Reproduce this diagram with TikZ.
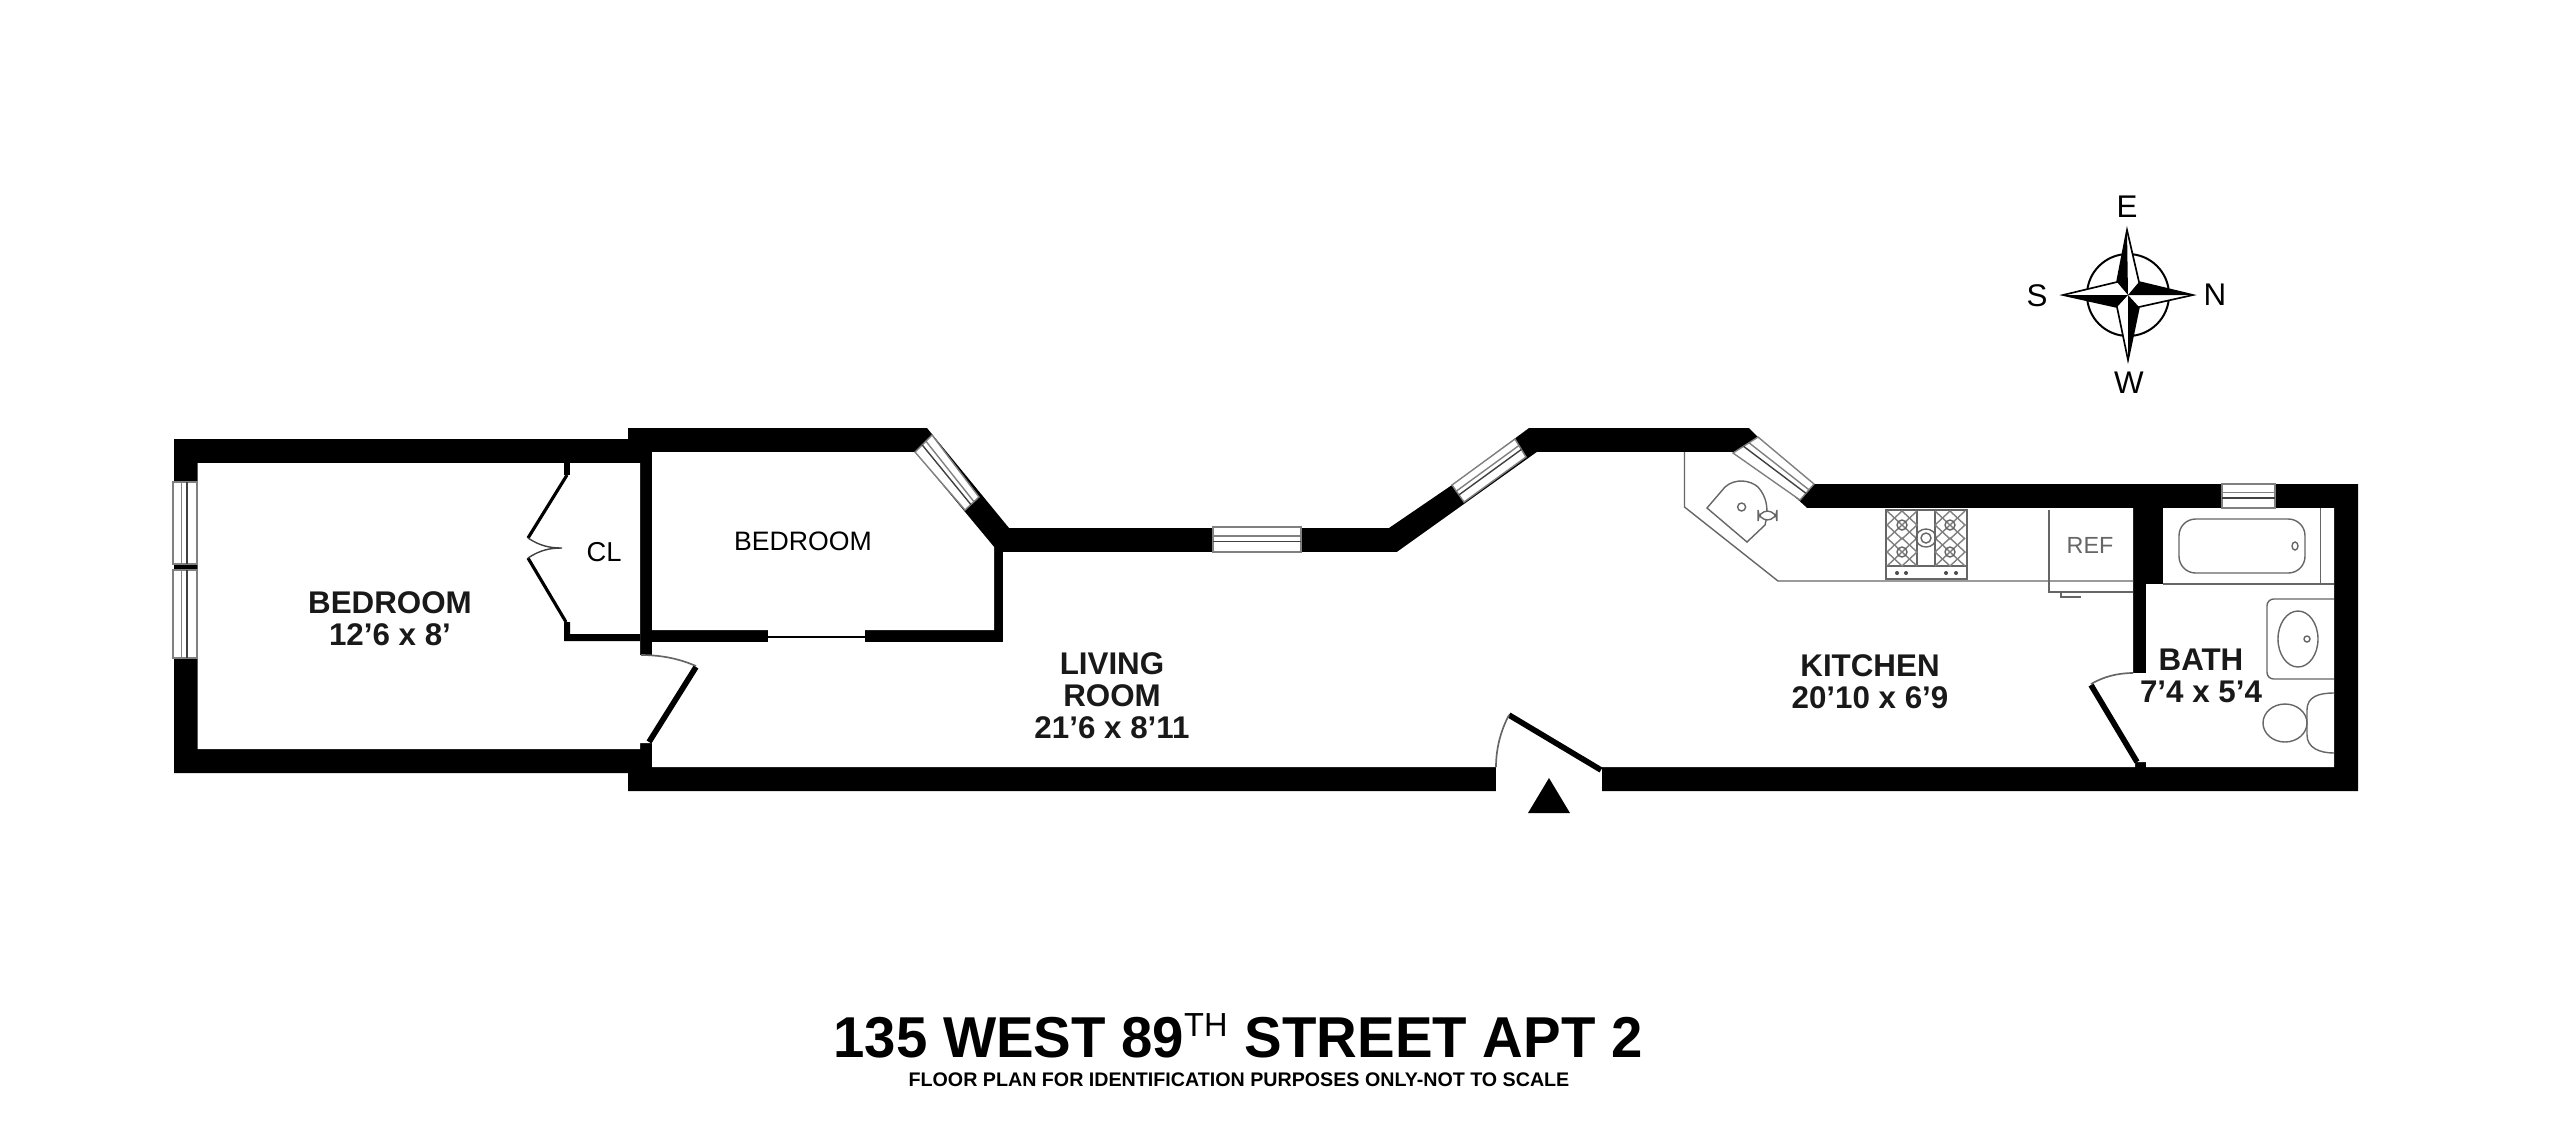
\documentclass[tikz,border=0pt]{standalone}
\usepackage{fontspec}
\setmainfont{Liberation Sans}
\usetikzlibrary{calc}
\tikzset{
  wallfill/.style={fill=black,draw=none},
  fixture/.style={draw=black!60,line width=0.42pt,fill=none},
  fine/.style={draw=black!75,line width=0.42pt,fill=none},
  glass/.style={draw=black!50,line width=0.42pt,fill=white},
  leaf/.style={draw=black,line width=1.7pt},
  swing/.style={draw=black!60,line width=0.5pt},
  roomlabel/.style={font=\fontsize{9.4pt}{9.6pt}\selectfont\bfseries,align=center,inner sep=0pt,text=black!90},
  plainlabel/.style={font=\fontsize{8pt}{9.6pt}\selectfont,align=center,inner sep=0pt},
  compasslabel/.style={font=\fontsize{9.4pt}{9.6pt}\selectfont,inner sep=0pt},
}
% window: four corners a b (outer) c d (inner, c next to b)
\newcommand{\winpane}[4]{%
  \draw[glass] #1 -- #2 -- #3 -- #4 -- cycle;
  \draw[glass] ($#1!0.36!#4$) -- ($#2!0.36!#3$);
  \draw[fine] ($#1!0.58!#4$) -- ($#2!0.58!#3$);
}
\begin{document}
\begin{tikzpicture}[x=0.3pt,y=-0.3pt]
\useasboundingbox (0,0) rectangle (2554,1122);
\fill[white] (0,0) rectangle (2554,1122);

% ---------- walls ----------
\fill[wallfill] (174,439) -- (628,439) -- (628,428) -- (927,428) -- (1009,528) -- (1389,528)
  -- (1452,485) -- (1529,428) -- (1749,428) -- (1758,437) -- (1814,484) -- (2358,484) -- (2358,791)
  -- (628,791) -- (628,773) -- (174,773) -- cycle;
% interiors (cut out in white)
\fill[white] (197.500,463) -- (640,463) -- (640,655) -- (652,655) -- (652,743) -- (640,743) -- (640,749) -- (197.500,749) -- cycle;
\fill[white] (652,452) -- (915,452) -- (994,547) -- (994,630) -- (652,630) -- cycle;
\fill[white] (652,642) -- (1003,642) -- (1003,552) -- (1397,552) -- (1537,452) -- (1745,452)
  -- (1807,508) -- (2133,508) -- (2133,673) -- (2146,673) -- (2146,584) -- (2163,584) -- (2163,508)
  -- (2334,508) -- (2334,767) -- (2146,767) -- (2146,762) -- (2135,762) -- (2135,767) -- (652,767) -- cycle;
% entrance gap
\fill[white] (1496,760) rectangle (1602,795);
% door openings in partitions
\fill[white] (640,655) rectangle (652,743);
\fill[white] (2133,673) rectangle (2146,762);
% bedroom partition gap
\fill[white] (768,628) rectangle (865,644);
\draw[black,line width=0.45pt] (768,637) -- (865,637);

% west-bedroom closet
\fill[wallfill] (564,463) rectangle (570,475);
\fill[wallfill] (564,622) -- (570,622) -- (570,634) -- (640,634) -- (640,641) -- (564,641) -- cycle;
\draw[black,line width=0.95pt] (567,475) -- (528,538);
\draw[black,line width=0.95pt] (528,558) -- (566,622);
\draw[fine] (528,538) .. controls (540,546) and (550,548) .. (562,548) .. controls (550,548) and (540,550) .. (528,558);

% doors
\draw[leaf] (696,667) -- (649,742);
\draw[swing] (641,655) .. controls (662,655) and (680,659) .. (696,666);
\draw[leaf] (1509,715) -- (1601,770);
\draw[swing] (1496,767) .. controls (1496,748) and (1501,730) .. (1509,715);
\draw[leaf] (2091,685) -- (2137,762);
\draw[swing] (2133,673) .. controls (2117,673) and (2103,677) .. (2091,684);

% entrance triangle
\fill[black] (1549,778) -- (1570,813) -- (1528,813) -- cycle;

% ---------- windows ----------
\winpane{(173,482)}{(173,564)}{(197,564)}{(197,482)}
\winpane{(173,570)}{(173,658)}{(197,658)}{(197,570)}
\winpane{(932,435)}{(979,497)}{(965,510)}{(915,452)}
\winpane{(1213,527)}{(1301,527)}{(1301,552)}{(1213,552)}
\winpane{(1515,439)}{(1452,485)}{(1464,502)}{(1526,457)}
\winpane{(1758,437)}{(1814,484)}{(1800,500)}{(1733,453)}
\winpane{(2222,484)}{(2275,484)}{(2275,508)}{(2222,508)}

% ---------- kitchen ----------
\draw[fixture] (1684.500,452) -- (1684.500,507) -- (1778,581) -- (2133,581);
\draw[fixture] (1707,508) -- (1747,542) -- (1765,525) .. controls (1769,510) and (1767,497) .. (1758,487)
  .. controls (1750,480) and (1735,478) .. (1725,487) -- cycle;
\draw[fixture] (1741.600,507) circle (4);
\draw[fixture,fill=white,rounded corners=3pt] (1758,511) rectangle (1777,520);
% stove
\draw[fixture,line width=0.6pt] (1886,510) rectangle (1967,579);
\draw[fixture] (1886,566) -- (1967,566);
\draw[fixture] (1917,510) -- (1917,566);
\draw[fixture] (1935,510) -- (1935,566);
\foreach \bx/\by in {1902/525,1902/552,1950/525,1950/552}{
  \draw[fixture,draw=black!50] (\bx-15,\by-14) -- (\bx+15,\by+14) (\bx-15,\by+14) -- (\bx+15,\by-14);
  \draw[fixture,draw=black!50] (\bx,\by-14) -- (\bx+15,\by) -- (\bx,\by+14) -- (\bx-15,\by) -- cycle;
  \draw[fixture] (\bx,\by) circle (5);
}
\draw[fixture] (1926,538) ellipse (10 and 9);
\draw[fixture] (1926,538) ellipse (5 and 5);
\foreach \kx in {1897,1906,1946,1956}{ \fill[black!70] (\kx,573) circle (2); }
% refrigerator
\draw[fixture] (2049,510) -- (2049,592) -- (2133,592);
\draw[fixture] (2061,592) -- (2061,597) -- (2081,597);

% ---------- bath ----------
\draw[fixture] (2163,584) -- (2334,584);
\draw[fixture] (2320.600,508) -- (2320.600,584);
\draw[fixture,rounded corners=5pt] (2179,519) rectangle (2305,573);
\draw[fixture] (2295,546) ellipse (3 and 4);
\draw[fixture,rounded corners=2pt] (2334,599) -- (2267,599) -- (2267,679) -- (2334,679);
\draw[fixture] (2298,639) ellipse (20 and 28);
\draw[fixture] (2307,639) circle (3);
\draw[fixture] (2285,723) ellipse (22 and 19);
\draw[fixture] (2334,693) .. controls (2318,693) and (2307,697) .. (2307,710) -- (2307,735)
  .. controls (2307,748) and (2320,753) .. (2334,753);

% ---------- compass ----------
\coordinate (cc) at (2128,295);
\coordinate (tipE) at (2127,230);
\coordinate (tipW) at (2128,360);
\coordinate (tipS) at (2063,295);
\coordinate (tipN) at (2193,295);
\coordinate (nw) at (2117,282);
\coordinate (ne) at (2139,282);
\coordinate (sw) at (2117,307);
\coordinate (se) at (2139,307);
\draw[black,line width=0.6pt] (cc) circle (41);
\filldraw[draw=black,line width=0.5pt,fill=white] (tipE) -- (ne) -- (tipN) -- (se) -- (tipW) -- (sw) -- (tipS) -- (nw) -- cycle;
\fill[black] (tipE) -- (nw) -- (cc) -- cycle;
\fill[black] (tipN) -- (ne) -- (cc) -- cycle;
\fill[black] (tipW) -- (se) -- (cc) -- cycle;
\fill[black] (tipS) -- (sw) -- (cc) -- cycle;

\node[compasslabel] (lE) at (2127,207) {E};
\node[compasslabel] (lS) at (2037,296) {S};
\node[compasslabel] (lN) at (2215,295) {N};
\node[compasslabel] (lW) at (2129,383) {W};

% ---------- labels ----------
\node[roomlabel] (bed1) at (390,619) {BEDROOM\\12’6 x 8’};
\node[plainlabel,font=\fontsize{8.2pt}{9.6pt}\selectfont] (cl) at (604,552) {CL};
\node[plainlabel] (bed2) at (803,541) {BEDROOM};
\node[roomlabel] (liv) at (1112,696) {LIVING\\ROOM\\21’6 x 8’11};
\node[roomlabel] (kit) at (1870,682) {KITCHEN\\20’10 x 6’9};
\node[roomlabel] (bath) at (2201,676) {BATH\\7’4 x 5’4};
\node[plainlabel,text=black!60,font=\fontsize{7pt}{9.6pt}\selectfont] (ref) at (2090,545) {REF};

\node[inner sep=0pt,font=\fontsize{17.3pt}{20pt}\selectfont\bfseries] (title) at (1238,1036) {\scalebox{0.977}[1]{135 WEST 89\textsuperscript{\fontsize{10pt}{10pt}\selectfont\mdseries TH} STREET APT 2}};
\node[inner sep=0pt,font=\fontsize{5.9pt}{7pt}\selectfont\bfseries] (sub) at (1239,1080) {FLOOR PLAN FOR IDENTIFICATION PURPOSES ONLY-NOT TO SCALE};
\end{tikzpicture}
\end{document}
